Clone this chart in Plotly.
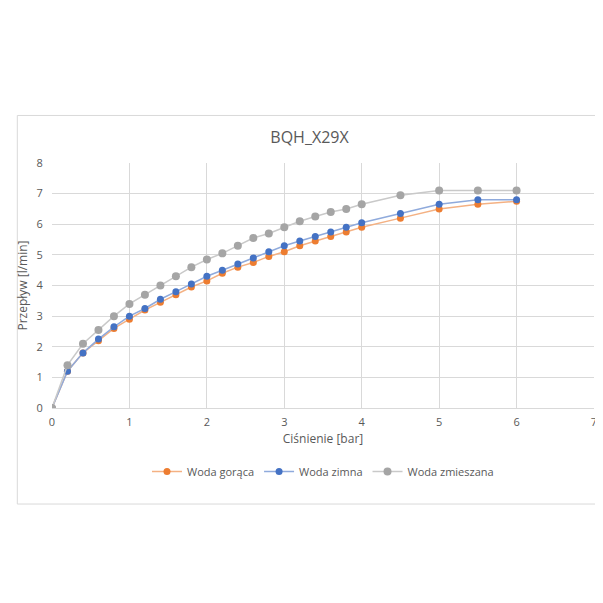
import plotly.graph_objects as go

cisnienie = [0, 0.2, 0.4, 0.6, 0.8, 1.0, 1.2, 1.4, 1.6, 1.8, 2.0, 2.2, 2.4, 2.6, 2.8,
             3.0, 3.2, 3.4, 3.6, 3.8, 4.0, 4.5, 5.0, 5.5, 6.0]
woda_goraca = [0, 1.2, 1.8, 2.2, 2.6, 2.9, 3.2, 3.45, 3.7, 3.95, 4.15, 4.4, 4.6, 4.75, 4.95,
               5.1, 5.3, 5.45, 5.6, 5.75, 5.9, 6.2, 6.5, 6.65, 6.75]
woda_zimna = [0, 1.2, 1.8, 2.25, 2.65, 3.0, 3.25, 3.55, 3.8, 4.05, 4.3, 4.5, 4.7, 4.9, 5.1,
              5.3, 5.45, 5.6, 5.75, 5.9, 6.05, 6.35, 6.65, 6.8, 6.8]
woda_zmieszana = [0, 1.4, 2.1, 2.55, 3.0, 3.4, 3.7, 4.0, 4.3, 4.6, 4.85, 5.05, 5.3, 5.55, 5.7,
                  5.9, 6.1, 6.25, 6.4, 6.5, 6.65, 6.95, 7.1, 7.1, 7.1]

series = [
    ("Woda gorąca", woda_goraca, "#ED7D31", "#F4B183"),
    ("Woda zimna", woda_zimna, "#4472C4", "#8FAADC"),
    ("Woda zmieszana", woda_zmieszana, "#A5A5A5", "#C9C9C9"),
]

fig = go.Figure()
for name, vals, mcol, lcol in series:
    fig.add_trace(go.Scatter(x=cisnienie, y=vals, name=name, mode="lines+markers",
                             line=dict(color=lcol, width=1.5),
                             marker=dict(color=mcol, size=7 if name != "Woda zmieszana" else 8)))

grid = "#D9D9D9"
fig.update_layout(
    width=603, height=603,
    paper_bgcolor="white", plot_bgcolor="white",
    font=dict(family="Open Sans, Liberation Sans, sans-serif", color="#595959", size=11),
    title=dict(text="BQH_X29X", x=0.5, xanchor="center", y=0.785, yanchor="middle",
               font=dict(size=16, color="#595959")),
    margin=dict(l=44, r=17, t=155, b=203, autoexpand=False),
    xaxis=dict(range=[0, 7], dtick=1, showgrid=True, gridcolor=grid, zeroline=False,
               showline=True, linecolor=grid, ticks="outside", ticklen=4, tickcolor="white",
               title=dict(text="Ciśnienie [bar]", font=dict(size=12), standoff=6)),
    yaxis=dict(range=[0, 8], dtick=1, showgrid=True, gridcolor=grid, zeroline=False,
               showline=False, ticks="outside", ticklen=6, tickcolor="white",
               title=dict(text="Przepływ [l/min]", font=dict(size=12), standoff=6)),
    legend=dict(orientation="h", x=0.5, xanchor="center", y=-0.2, yanchor="top",
                font=dict(size=11)),
    shapes=[dict(type="rect", xref="paper", yref="paper", x0=-0.064, x1=1.004,
                 y0=-0.392, y1=1.194, line=dict(color="#D9D9D9", width=1))],
)

fig.write_html("out.html")
